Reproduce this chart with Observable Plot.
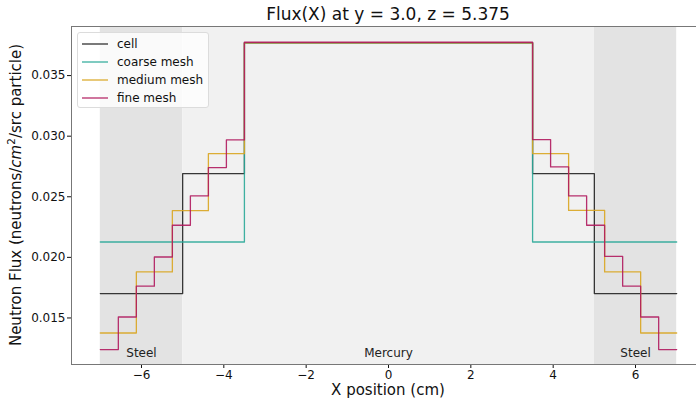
<!DOCTYPE html>
<html>
<head>
<meta charset="utf-8">
<script src="https://cdn.jsdelivr.net/npm/d3@7"></script>
<script src="https://cdn.jsdelivr.net/npm/@observablehq/plot@0.6"></script>
<style>
  html, body { margin: 0; padding: 0; background: white; overflow: hidden; }
  #wrap { position: relative; width: 696px; height: 404px; font-family: "DejaVu Sans", sans-serif; }
  #title { position: absolute; left: 0; top: 4px; width: 776px; text-align: center; font-size: 17px; color: #111; white-space: nowrap; }
  #legend { position: absolute; left: 77px; top: 32px; width: 130px; height: 74px; background: rgba(255,255,255,0.8); border: 1px solid #dcdcdc; border-radius: 3px; font-size: 12px; color: #111; }
  .row { position: absolute; left: 4px; height: 18px; display: flex; align-items: center; }
  .row svg { margin-right: 9px; }
</style>
</head>
<body>
<div id="wrap">
  <div id="chart"></div>
  <div id="title">Flux(X) at y = 3.0, z = 5.375</div>
  <div id="legend"></div>
</div>
<script>
// ---- data ----
const seriesNames = ["cell", "coarse mesh", "medium mesh", "fine mesh"];
const seriesColors = ["#222222", "#2aa898", "#d9a520", "#b01a5e"];

const cellEdges = [-7, -5, -3.5, 3.5, 5, 7];
const cellValues = [0.01701, 0.02691, 0.0377, 0.02691, 0.01701];

const coarseEdges = [-7, -3.5, 3.5, 7];
const coarseValues = [0.02127, 0.0377, 0.02127];

const mediumEdges = [-7, -6.125, -5.25, -4.375, -3.5, 3.5, 4.375, 5.25, 6.125, 7];
const mediumValues = [0.01376, 0.01880, 0.02385, 0.02856, 0.0377, 0.02856, 0.02387, 0.01880, 0.01376];

const fineEdges = [-7, -6.5625, -6.125, -5.6875, -5.25, -4.8125, -4.375, -3.9375, -3.5,
                   3.5, 3.9375, 4.375, 4.8125, 5.25, 5.6875, 6.125, 6.5625, 7];
const fineValues = [0.01239, 0.01508, 0.01762, 0.02003, 0.02265, 0.02507, 0.02741, 0.02969, 0.03775,
                    0.02972, 0.02746, 0.02507, 0.02265, 0.02009, 0.01762, 0.01508, 0.01239];

const regionNames = ["Steel", "Mercury", "Steel"];
const regionStarts = [-7, -5, 5];
const regionEnds = [-5, 5, 7];
const regionFills = ["#e3e3e3", "#f1f1f1", "#e3e3e3"];

const xTicks = [-6, -4, -2, 0, 2, 4, 6];
const yTicks = [0.015, 0.020, 0.025, 0.030, 0.035];
const xDomain = [-7.7, 7.7];
const yDomain = [0.01116, 0.03905];

// ---- build ----
function steps(edges, values, name) {
  const pts = values.map((v, i) => ({x: edges[i], y: v, s: name}));
  pts.push({x: edges[edges.length - 1], y: values[values.length - 1], s: name});
  return pts;
}
const allSeries = [
  steps(cellEdges, cellValues, seriesNames[0]),
  steps(coarseEdges, coarseValues, seriesNames[1]),
  steps(mediumEdges, mediumValues, seriesNames[2]),
  steps(fineEdges, fineValues, seriesNames[3])
];
const regions = regionNames.map((n, i) => ({name: n, x1: regionStarts[i], x2: regionEnds[i], fill: regionFills[i]}));

const W = 696, H = 404;
const chart = Plot.plot({
  width: W, height: H,
  marginLeft: 71, marginRight: -9, marginTop: 26, marginBottom: 40,
  style: {fontFamily: "DejaVu Sans", fontSize: "12px", color: "#111", background: "white"},
  x: {domain: xDomain, ticks: xTicks, tickSize: 4, tickPadding: 2, label: null},
  y: {domain: yDomain, ticks: yTicks, tickSize: 4, tickPadding: 2, label: null, tickFormat: d3.format(".3f")},
  marks: [
    Plot.rect(regions, {x1: "x1", x2: "x2", fill: "fill"}),
    ...allSeries.map((d, i) => Plot.line(d, {x: "x", y: "y", curve: "step-after", stroke: seriesColors[i], strokeWidth: 1.3, strokeOpacity: 0.9})),
    Plot.text(regions, {x: d => (d.x1 + d.x2) / 2, text: "name", frameAnchor: "bottom", dy: -8, fontSize: 12, fill: "#222"}),
    Plot.frame({stroke: "#777"})
  ]
});
document.getElementById("chart").appendChild(chart);

// axis labels
const svg = d3.select(chart);
svg.append("text")
  .attr("x", 388).attr("y", 395)
  .attr("text-anchor", "middle")
  .attr("font-size", 15).attr("fill", "#111")
  .text("X position (cm)");
const yl = svg.append("text")
  .attr("transform", "translate(21,195) rotate(-90)")
  .attr("text-anchor", "middle")
  .attr("font-size", 15).attr("fill", "#111");
yl.append("tspan").text("Neutron Flux (neutrons/");
yl.append("tspan").attr("font-style", "italic").text("cm");
yl.append("tspan").attr("font-size", 10.5).attr("dy", -6).text("2");
yl.append("tspan").attr("dy", 6).text("/src particle)");

// legend
const leg = document.getElementById("legend");
seriesNames.forEach((n, i) => {
  const row = document.createElement("div");
  row.className = "row";
  row.style.top = (2 + i * 18) + "px";
  row.innerHTML = `<svg width="26" height="4"><line x1="0" x2="26" y1="2" y2="2" stroke="${seriesColors[i]}" stroke-opacity="0.6" stroke-width="2"/></svg><span>${n}</span>`;
  leg.appendChild(row);
});
</script>
</body>
</html>
